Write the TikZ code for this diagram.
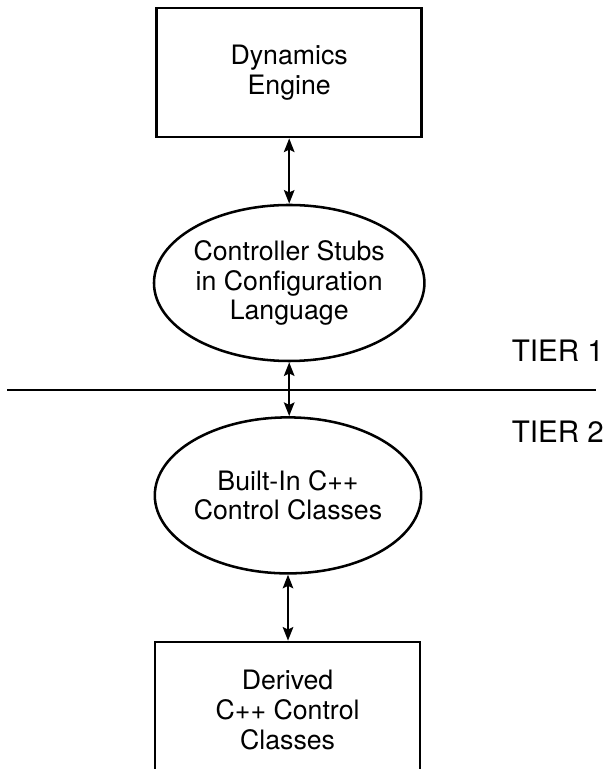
\documentclass[tikz,border=0pt]{standalone}
\usepackage{fontspec}
\setmainfont{TeX Gyre Heros}
\usepackage{tikz}
\usetikzlibrary{arrows.meta,positioning,shapes.geometric}

\begin{document}
\begin{tikzpicture}[font=\fontsize{19}{21}\selectfont,line width=1.8pt,
    >={Stealth[length=0.34cm,width=0.26cm,inset=0.06cm]},
    box/.style={draw,rectangle,align=center,minimum width=6.625cm},
    oval/.style={draw,ellipse,align=center,minimum width=6.62cm,minimum height=3.9cm,inner sep=0pt},
    tier/.style={font=\fontsize{21}{24}\selectfont,anchor=base east,inner sep=0pt}]
        \useasboundingbox (0,0) rectangle (15.2,19.225);
        \clip (0,0) rectangle (15.2,19.225);
        \node[box,minimum height=3.225cm] (engine) at (7.23,17.41) {Dynamics\\Engine};
        \node[oval] (stubs) at (7.23,12.15) {Controller Stubs\\in Configuration\\Language};
        \node[oval] (builtin) at (7.2,6.84) {Built-In C++\\Control Classes};
        \node[box,minimum height=3.4cm] (derived) at (7.19,1.475) {Derived\\C++ Control\\Classes};
        % tier boundary
        \coordinate (cutL) at (0.175,9.475);
        \coordinate (cutR) at (14.9,9.475);
        \draw[line width=1.3pt] (cutL)--(cutR);
        \node[tier] (tier1) at (15.125,10.175) {TIER 1};
        \node[tier] (tier2) at (15.125,8.15) {TIER 2};
        \draw[<->] (engine)--(stubs);
        \draw[<->] (stubs.south)--(stubs.south |- builtin.north);
        \draw[<->] (builtin.south)--(builtin.south |- derived.north);
      \end{tikzpicture}
\end{document}
